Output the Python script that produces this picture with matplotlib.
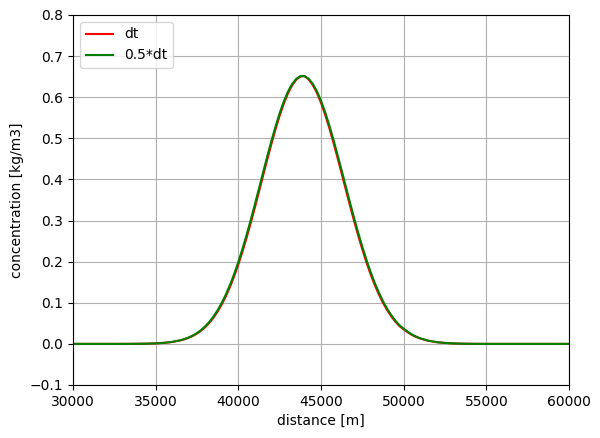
import matplotlib
matplotlib.use("Agg")
import matplotlib.pyplot as plt

# distance [m]
distance = [30000, 30500, 31000, 31500, 32000, 32500, 33000, 33500, 34000, 34500, 35000, 35500, 36000, 36500,
            36750, 37000, 37250, 37500, 37750, 38000, 38250, 38500, 38750, 39000,
            39250, 39500, 39750, 40000, 40250, 40500, 40750, 41000, 41250, 41500,
            41750, 42000, 42250, 42500, 42750, 43000, 43250, 43500, 43750,
            44000, 44250, 44500, 44750, 45000, 45250, 45500, 45750, 46000, 46250,
            46500, 46750, 47000, 47250, 47500, 47750, 48000, 48250, 48500, 48750,
            49000, 49250, 49500, 49750, 50000, 50250, 50500, 50750, 51000,
            51500, 52000, 52500, 53000, 53500, 54000, 54500, 55000, 56000, 57000, 58000, 59000, 60000]

# concentration [kg/m3], time step dt
conc_dt = [0, 0, 0, 0, 0, 0, 0.00005, 0.0001, 0.0003, 0.0005, 0.0012, 0.0024, 0.0046, 0.0085,
           0.0113, 0.0149, 0.0194, 0.0251, 0.0322, 0.0409, 0.0513, 0.0640, 0.0788, 0.0962,
           0.1161, 0.1390, 0.1647, 0.1932, 0.2245, 0.2582, 0.2941, 0.3316, 0.3704, 0.4096,
           0.4485, 0.4863, 0.5221, 0.5552, 0.5845, 0.6093, 0.6288, 0.6427, 0.6504,
           0.6518, 0.6433, 0.6298, 0.6108, 0.5865, 0.5577, 0.5254, 0.4900, 0.4527, 0.4142,
           0.3753, 0.3368, 0.2992, 0.2634, 0.2296, 0.1982, 0.1694, 0.1434, 0.1202, 0.0998,
           0.0821, 0.0669, 0.0539, 0.0432, 0.0354, 0.0281, 0.0218, 0.0169, 0.0130,
           0.0074, 0.0041, 0.0022, 0.0011, 0.0005, 0.0002, 0.0001, 0, 0, 0, 0, 0, 0]

# concentration [kg/m3], time step 0.5*dt
conc_half_dt = [0, 0, 0, 0, 0, 0, 0.00006, 0.0001, 0.0003, 0.0006, 0.0013, 0.0026, 0.0049, 0.0090,
                0.0119, 0.0157, 0.0205, 0.0264, 0.0338, 0.0429, 0.0537, 0.0668, 0.0821, 0.1000,
                0.1205, 0.1440, 0.1702, 0.1993, 0.2311, 0.2652, 0.3015, 0.3393, 0.3782, 0.4174,
                0.4561, 0.4936, 0.5289, 0.5613, 0.5897, 0.6135, 0.6319, 0.6446, 0.6511,
                0.6513, 0.6451, 0.6328, 0.6149, 0.5916, 0.5637, 0.5320, 0.4972, 0.4602, 0.4219,
                0.3830, 0.3444, 0.3066, 0.2704, 0.2362, 0.2043, 0.1750, 0.1484, 0.1247, 0.1037,
                0.0855, 0.0698, 0.0564, 0.0451, 0.0370, 0.0295, 0.0230, 0.0178, 0.0136,
                0.0078, 0.0043, 0.0023, 0.0011, 0.0005, 0.0002, 0.0001, 0, 0, 0, 0, 0, 0]

fig = plt.figure(figsize=(6.0, 4.38), dpi=100)
ax = fig.add_axes([73/600, 1-385/438, (569-73)/600, (385-15)/438])
ax.plot(distance, conc_dt, color="red", label="dt")
ax.plot(distance, conc_half_dt, color="green", label="0.5*dt")
ax.set_xlim(30000, 60000)
ax.set_ylim(-0.1, 0.8)
ax.set_xlabel("distance [m]")
ax.set_ylabel("concentration [kg/m3]")
ax.grid(True)
ax.legend(loc="upper left")
fig.savefig("out.png", dpi=100)
